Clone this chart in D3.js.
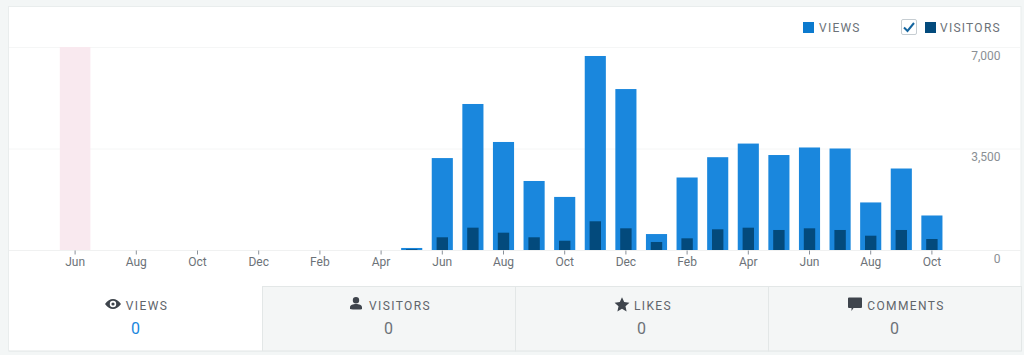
<!DOCTYPE html>
<html>
<head>
<meta charset="utf-8">
<script src="https://cdn.jsdelivr.net/npm/d3@7"></script>
<style>
html, body { margin: 0; padding: 0; background: #f3f6f6; overflow: hidden; }
svg { display: block; }
text { font-family: Roboto, sans-serif; }
</style>
</head>
<body>
<div id="container"></div>
<script>
const months = ["Jun", "Jul", "Aug", "Sep", "Oct", "Nov", "Dec", "Jan", "Feb", "Mar", "Apr", "May",
    "Jun", "Jul", "Aug", "Sep", "Oct", "Nov", "Dec", "Jan", "Feb", "Mar", "Apr", "May",
    "Jun", "Jul", "Aug", "Sep", "Oct"]
const views = [0, 0, 0, 0, 0, 0, 0, 0, 0, 0, 0, 70,
    3170, 5035, 3725, 2380, 1830, 6690, 5550, 550, 2500, 3200, 3670, 3275,
    3535, 3500, 1640, 2810, 1190]
const visitors = [0, 0, 0, 0, 0, 0, 0, 0, 0, 0, 0, 25,
    438, 770, 597, 438, 320, 990, 748, 276, 403, 714, 769, 690,
    748, 690, 493, 690, 379]
const yTicks = [0, 3500, 7000]
const highlighted = [0]
const tabs = ["VIEWS", "VISITORS", "LIKES", "COMMENTS"]
const tabValues = [0, 0, 0, 0]

const icons = {
    VIEWS: "M-8 0C-5.5-3.6-2.8-5 0-5S5.5-3.6 8 0C5.5 3.6 2.8 5 0 5S-5.5 3.6-8 0ZM0-3.2A3.2 3.2 0 1 0 0 3.2A3.2 3.2 0 1 0 0-3.2ZM0-1.6A1.6 1.6 0 1 1 0 1.6A1.6 1.6 0 1 1 0-1.6Z",
    VISITORS: "M0-6.5A3.2 3.2 0 1 1 0-.1A3.2 3.2 0 1 1 0-6.5ZM-6 5.5V4C-6 1.6-3 .6 0 .6S6 1.6 6 4V5.5C6 6-2 6.5-6 5.5Z",
    LIKES: "M0-7.2L2.2-2.4L7.4-1.8L3.5 1.7L4.6 6.9L0 4.3L-4.6 6.9L-3.5 1.7L-7.4-1.8L-2.2-2.4Z",
    COMMENTS: "M-6-7H6A1 1 0 0 1 7-6V2.5A1 1 0 0 1 6 3.5H-1.5L-3.5 6.5V3.5H-6A1 1 0 0 1-7 2.5V-6A1 1 0 0 1-6-7Z"
}

const width = 1024, height = 355
const chartTop = 47, chartBottom = 250

const svg = d3.select("#container").append("svg").attr("width", width).attr("height", height)

// card
svg.append("rect").attr("x", 8.5).attr("y", 6.5).attr("width", 1012.5).attr("height", 344.5)
    .attr("fill", "#fff").attr("stroke", "#e9eded")

const x = d3.scaleBand().domain(d3.range(months.length)).range([59.8, 947.2]).paddingInner(0.31).paddingOuter(0.155)
const slot = d3.scaleBand().domain(d3.range(months.length)).range([59.8, 947.2])
const y = d3.scaleLinear().domain([0, 7000]).range([chartBottom, chartTop])

// grid
svg.append("g").selectAll("line").data(yTicks).join("line")
    .attr("x1", 9).attr("x2", 1021)
    .attr("y1", d => y(d) + 0.5).attr("y2", d => y(d) + 0.5)
    .attr("stroke", d => d === 0 ? "#f0f1f1" : "#f5f6f6")

// highlighted month
svg.append("g").selectAll("rect").data(highlighted).join("rect")
    .attr("x", d => slot(d)).attr("width", slot.bandwidth())
    .attr("y", chartTop).attr("height", chartBottom - chartTop)
    .attr("fill", "#f9e9ef")

// bars
svg.append("g").selectAll("rect").data(views).join("rect")
    .attr("x", (d, i) => x(i)).attr("width", x.bandwidth())
    .attr("y", d => y(d)).attr("height", d => y(0) - y(d))
    .attr("fill", "#1a87dd")

const innerW = x.bandwidth() * 0.54
svg.append("g").selectAll("rect").data(visitors).join("rect")
    .attr("x", (d, i) => x(i) + (x.bandwidth() - innerW) / 2).attr("width", innerW)
    .attr("y", d => y(d)).attr("height", d => y(0) - y(d))
    .attr("fill", "#034a7c")

// x axis, every other month
const xAxis = d3.axisBottom(slot)
    .tickValues(d3.range(0, months.length, 2))
    .tickFormat(i => months[i])
    .tickSize(4).tickPadding(3)
const gx = svg.append("g").attr("transform", `translate(0,${chartBottom + 0.5})`).call(xAxis)
gx.select(".domain").remove()
gx.selectAll("line").attr("stroke", "#8a9199")
gx.selectAll("text").attr("fill", "#6c7278").style("font-size", "12px").style("font-family", "Roboto, sans-serif")

// y axis labels
const yAxis = d3.axisRight(y).tickValues(yTicks).tickFormat(d3.format(",")).tickSize(0).tickPadding(0)
const gy = svg.append("g").attr("transform", "translate(1000.5,0)").call(yAxis)
gy.select(".domain").remove()
gy.selectAll("text").attr("text-anchor", "end").attr("fill", "#8a8f94")
    .attr("dy", null).attr("y", d => d === 0 ? 12 : 12)
    .style("font-size", "12px").style("font-family", "Roboto, sans-serif")

// legend
const legend = svg.append("g")
legend.append("rect").attr("x", 803).attr("y", 22).attr("width", 11).attr("height", 11).attr("fill", "#0c7ace")
legend.append("rect").attr("x", 925).attr("y", 22).attr("width", 11).attr("height", 11).attr("fill", "#034a7c")
legend.append("rect").attr("x", 901.5).attr("y", 19.5).attr("width", 15).attr("height", 15).attr("rx", 1.5)
    .attr("fill", "#fff").attr("stroke", "#c6cdd2")
legend.append("path").attr("d", "M904 27.5L907.5 31L914 23").attr("fill", "none")
    .attr("stroke", "#14659f").attr("stroke-width", 2)
legend.selectAll("text").data([["VIEWS", 819], ["VISITORS", 940]]).join("text")
    .attr("x", d => d[1]).attr("y", 32).text(d => d[0])
    .attr("fill", "#6c7278").style("font-size", "12px").style("letter-spacing", "1.25px")

// stat tabs
const tabX = d3.scaleBand().domain(tabs).range([9, 1021])
const tab = svg.append("g").selectAll("g").data(tabs).join("g")
    .attr("transform", d => `translate(${tabX(d)},286)`)
tab.append("rect").attr("x", 0.5).attr("y", 0.5)
    .attr("width", tabX.bandwidth()).attr("height", 64.5)
    .attr("fill", (d, i) => i === 0 ? "#fff" : "#f4f6f6")
    .attr("stroke", (d, i) => i === 0 ? "none" : "#e3e7e7")

const iconPos = { VIEWS: [-22.5, 18], VISITORS: [-32.5, 17.5], LIKES: [-19.5, 18.5], COMMENTS: [-39.5, 18.5] }
const center = tabX.bandwidth() / 2
tab.append("path").attr("d", d => icons[d]).attr("fill", "#3e444c").attr("fill-rule", "evenodd")
    .attr("transform", d => `translate(${center + iconPos[d][0]},${iconPos[d][1]})`)
tab.append("text").attr("x", center + 11.5).attr("y", 24).attr("text-anchor", "middle")
    .text(d => d).attr("fill", "#5f656b").style("font-size", "12px").style("letter-spacing", "1.4px")
tab.append("text").attr("x", center).attr("y", 48).attr("text-anchor", "middle")
    .text((d, i) => tabValues[i])
    .attr("fill", (d, i) => i === 0 ? "#1a87dd" : "#6c7278").style("font-size", "16px")

// outline under the first tab
svg.append("line").attr("x1", 9).attr("x2", 262).attr("y1", 351).attr("y2", 351).attr("stroke", "#e3e7e7")
</script>
</body>
</html>
